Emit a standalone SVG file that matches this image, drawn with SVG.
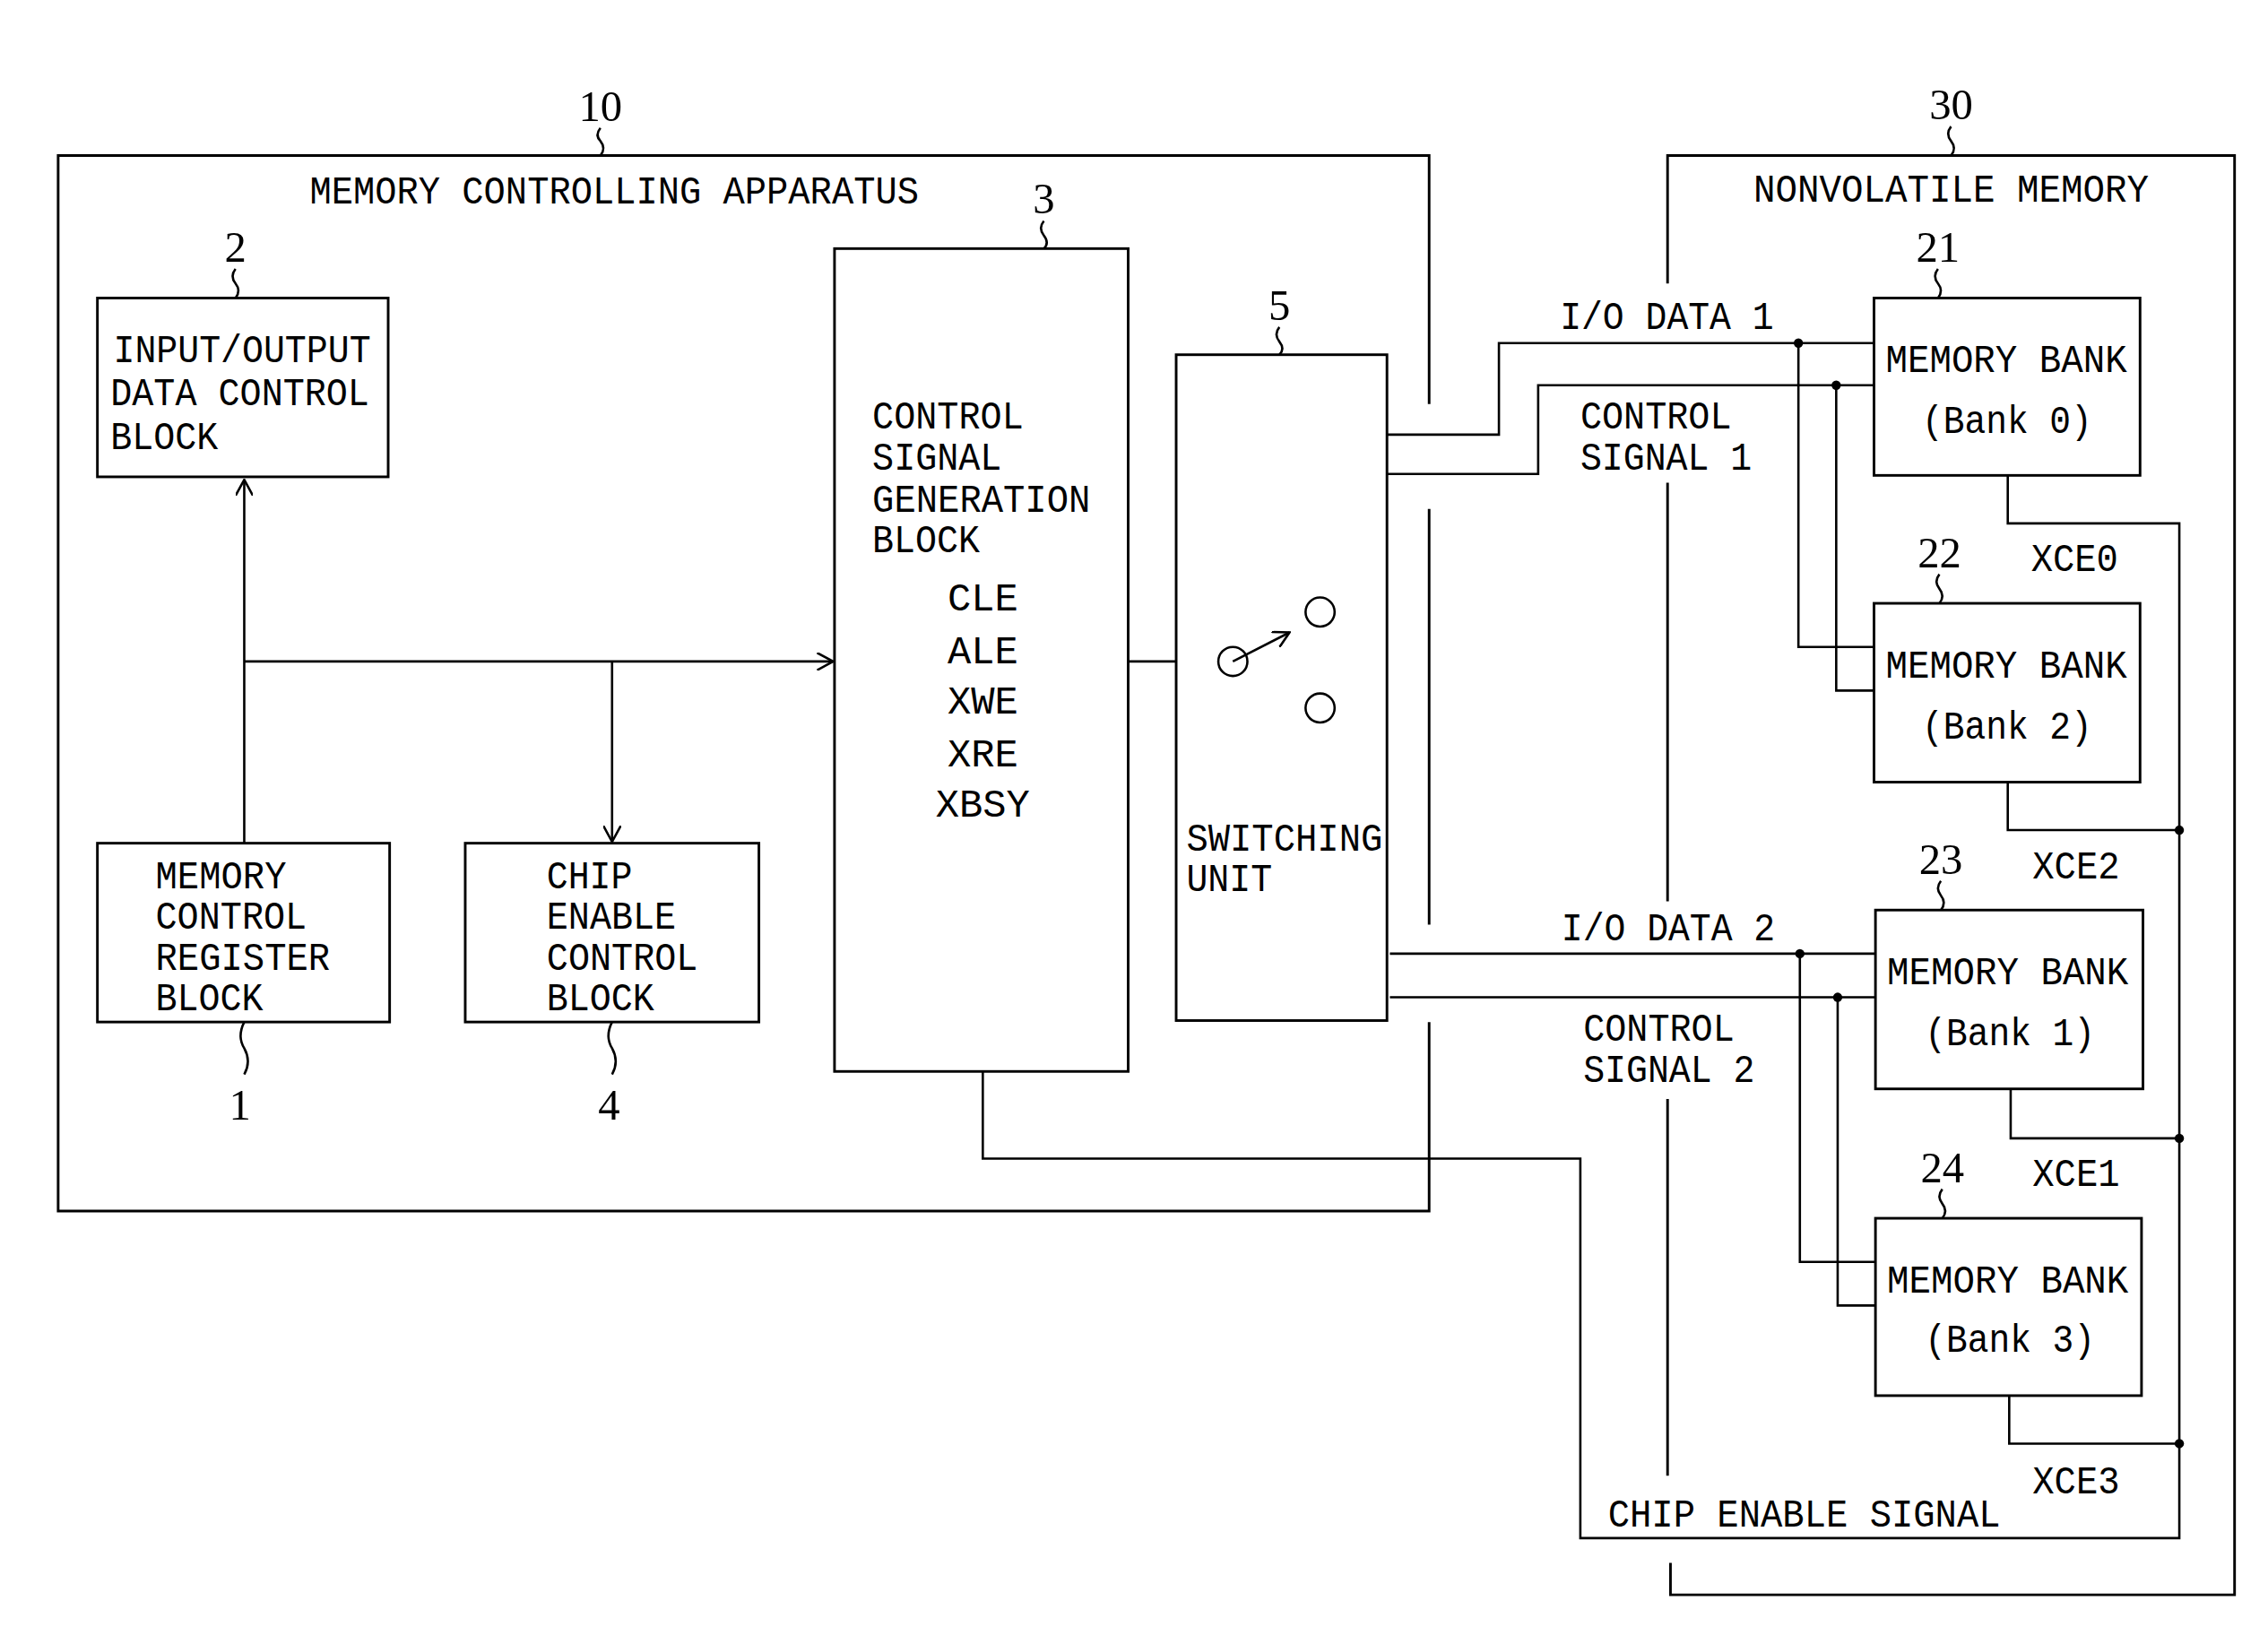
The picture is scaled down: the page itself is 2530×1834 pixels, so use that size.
<svg xmlns="http://www.w3.org/2000/svg" width="2530" height="1834" viewBox="0 0 2530 1834">
<defs>
<style>
.b{fill:none;stroke:#000;stroke-width:1.8}
.w{fill:none;stroke:#000;stroke-width:1.6}
.t{font-family:"Liberation Mono",monospace;font-size:27px;fill:#000}
.n{font-family:"Liberation Serif",serif;font-size:30px;fill:#000}
.d{fill:#000}
</style>
<marker id="ar" viewBox="0 0 12 12" refX="11" refY="6" markerWidth="12" markerHeight="12" markerUnits="userSpaceOnUse" orient="auto"><path d="M0,0 L11,6 L0,12" fill="none" stroke="#000" stroke-width="1.6"/></marker>
</defs>
<rect width="2530" height="1834" fill="#fff"/>
<g transform="scale(1.6218)">
<g id="n10">
<path class="b" d="M983,278 V107 H40 V833 H983 V703 M983,350 V636"/>
<text class="n" x="413" y="83" text-anchor="middle">10</text>
<path class="w" d="M413,88 q-4,5 0,9 q4,5 0,10"/>
<text class="t" x="213" y="140" textLength="419" lengthAdjust="spacingAndGlyphs">MEMORY CONTROLLING APPARATUS</text>
</g>
<g id="n2">
<rect class="b" x="67" y="205" width="200" height="123"/>
<text class="n" x="162" y="180" text-anchor="middle">2</text>
<path class="w" d="M162,185 q-4,5 0,10 q4,5 0,10"/>
<text class="t" x="78" y="249" textLength="177" lengthAdjust="spacingAndGlyphs">INPUT/OUTPUT</text>
<text class="t" x="76" y="279" textLength="178" lengthAdjust="spacingAndGlyphs">DATA CONTROL</text>
<text class="t" x="76" y="309" textLength="74" lengthAdjust="spacingAndGlyphs">BLOCK</text>
</g>
<g id="n1">
<rect class="b" x="67" y="580" width="201" height="123"/>
<text class="t" x="107" y="611" textLength="90" lengthAdjust="spacingAndGlyphs">MEMORY</text>
<text class="t" x="107" y="639" textLength="104" lengthAdjust="spacingAndGlyphs">CONTROL</text>
<text class="t" x="107" y="667" textLength="120" lengthAdjust="spacingAndGlyphs">REGISTER</text>
<text class="t" x="107" y="695" textLength="74" lengthAdjust="spacingAndGlyphs">BLOCK</text>
<path class="w" d="M168,703 q-5,10 0,18 q5,9 0,18"/>
<text class="n" x="165" y="770" text-anchor="middle">1</text>
</g>
<g id="n4">
<rect class="b" x="320" y="580" width="202" height="123"/>
<text class="t" x="376" y="611" textLength="59" lengthAdjust="spacingAndGlyphs">CHIP</text>
<text class="t" x="376" y="639" textLength="89" lengthAdjust="spacingAndGlyphs">ENABLE</text>
<text class="t" x="376" y="667" textLength="104" lengthAdjust="spacingAndGlyphs">CONTROL</text>
<text class="t" x="376" y="695" textLength="74" lengthAdjust="spacingAndGlyphs">BLOCK</text>
<path class="w" d="M421,703 q-5,10 0,18 q5,9 0,18"/>
<text class="n" x="419" y="770" text-anchor="middle">4</text>
</g>
<g id="n3">
<rect class="b" x="574" y="171" width="202" height="566"/>
<text class="n" x="718" y="147" text-anchor="middle">3</text>
<path class="w" d="M718,152 q-4,5 0,10 q4,5 0,9"/>
<text class="t" x="600" y="295" textLength="104" lengthAdjust="spacingAndGlyphs">CONTROL</text>
<text class="t" x="600" y="323" textLength="89" lengthAdjust="spacingAndGlyphs">SIGNAL</text>
<text class="t" x="600" y="352" textLength="150" lengthAdjust="spacingAndGlyphs">GENERATION</text>
<text class="t" x="600" y="380" textLength="74" lengthAdjust="spacingAndGlyphs">BLOCK</text>
<g text-anchor="middle">
<text class="t" x="676" y="420">CLE</text>
<text class="t" x="676" y="456">ALE</text>
<text class="t" x="676" y="491">XWE</text>
<text class="t" x="676" y="527">XRE</text>
<text class="t" x="676" y="562">XBSY</text>
</g>
</g>
<g id="n5">
<rect class="b" x="809" y="244" width="145" height="458"/>
<text class="n" x="880" y="220" text-anchor="middle">5</text>
<path class="w" d="M880,225 q-4,5 0,10 q4,5 0,9"/>
<circle class="w" cx="848" cy="455" r="10"/>
<line class="w" x1="848" y1="455" x2="887" y2="435" marker-end="url(#ar)"/>
<circle class="w" cx="908" cy="421" r="10"/>
<circle class="w" cx="908" cy="487" r="10"/>
<text class="t" x="816" y="585" textLength="135" lengthAdjust="spacingAndGlyphs">SWITCHING</text>
<text class="t" x="816" y="613" textLength="59" lengthAdjust="spacingAndGlyphs">UNIT</text>
</g>
<g id="n30">
<path class="b" d="M1147,195 V107 H1537 V1097 H1149 V1075 M1147,332 V620 M1147,756 V1015"/>
<text class="n" x="1342" y="82" text-anchor="middle">30</text>
<path class="w" d="M1342,87 q-4,5 0,10 q4,5 0,10"/>
<text class="t" x="1206" y="139" textLength="272" lengthAdjust="spacingAndGlyphs">NONVOLATILE MEMORY</text>
</g>
<g id="n21">
<rect class="b" x="1289" y="205" width="183" height="122"/>
<text class="n" x="1333" y="180" text-anchor="middle">21</text>
<path class="w" d="M1333,185 q-4,5 0,10 q4,5 0,10"/>
<text class="t" x="1297" y="256" textLength="166" lengthAdjust="spacingAndGlyphs">MEMORY BANK</text>
<text class="t" x="1322" y="298" textLength="117" lengthAdjust="spacingAndGlyphs">(Bank 0)</text>
</g>
<g id="n22">
<rect class="b" x="1289" y="415" width="183" height="123"/>
<text class="n" x="1334" y="390" text-anchor="middle">22</text>
<path class="w" d="M1334,395 q-4,5 0,10 q4,5 0,10"/>
<text class="t" x="1297" y="466" textLength="166" lengthAdjust="spacingAndGlyphs">MEMORY BANK</text>
<text class="t" x="1322" y="508" textLength="117" lengthAdjust="spacingAndGlyphs">(Bank 2)</text>
</g>
<g id="n23">
<rect class="b" x="1290" y="626" width="184" height="123"/>
<text class="n" x="1335" y="601" text-anchor="middle">23</text>
<path class="w" d="M1335,606 q-4,5 0,10 q4,5 0,10"/>
<text class="t" x="1298" y="677" textLength="166" lengthAdjust="spacingAndGlyphs">MEMORY BANK</text>
<text class="t" x="1324" y="719" textLength="117" lengthAdjust="spacingAndGlyphs">(Bank 1)</text>
</g>
<g id="n24">
<rect class="b" x="1290" y="838" width="183" height="122"/>
<text class="n" x="1336" y="813" text-anchor="middle">24</text>
<path class="w" d="M1336,818 q-4,5 0,10 q4,5 0,10"/>
<text class="t" x="1298" y="889" textLength="166" lengthAdjust="spacingAndGlyphs">MEMORY BANK</text>
<text class="t" x="1324" y="930" textLength="117" lengthAdjust="spacingAndGlyphs">(Bank 3)</text>
</g>
<g id="connectors">
<line class="w" x1="168" y1="580" x2="168" y2="330" marker-end="url(#ar)"/>
<line class="w" x1="168" y1="455" x2="573" y2="455" marker-end="url(#ar)"/>
<line class="w" x1="421" y1="455" x2="421" y2="579" marker-end="url(#ar)"/>
<line class="w" x1="776" y1="455" x2="809" y2="455"/>
<path class="w" d="M954,299 H1031 V236 H1289 M1237,236 V445 H1289"/>
<path class="w" d="M954,326 H1058 V265 H1289 M1263,265 V475 H1289"/>
<path class="w" d="M956,656 H1290 M1238,656 V868 H1290"/>
<path class="w" d="M956,686 H1290 M1264,686 V898 H1290"/>
<path class="w" d="M676,737 V797 H1087 V1058 H1499 V360 H1381 V327"/>
<path class="w" d="M1381,538 V571 H1499 M1383,749 V783 H1499 M1382,960 V993 H1499"/>
<circle class="d" cx="1237" cy="236" r="3.2"/>
<circle class="d" cx="1263" cy="265" r="3.2"/>
<circle class="d" cx="1238" cy="656" r="3.2"/>
<circle class="d" cx="1264" cy="686" r="3.2"/>
<circle class="d" cx="1499" cy="571" r="3.2"/>
<circle class="d" cx="1499" cy="783" r="3.2"/>
<circle class="d" cx="1499" cy="993" r="3.2"/>
<text class="t" x="1073" y="226" textLength="147" lengthAdjust="spacingAndGlyphs">I/O DATA 1</text>
<text class="t" x="1087" y="295" textLength="104" lengthAdjust="spacingAndGlyphs">CONTROL</text>
<text class="t" x="1087" y="323" textLength="118" lengthAdjust="spacingAndGlyphs">SIGNAL 1</text>
<text class="t" x="1074" y="647" textLength="147" lengthAdjust="spacingAndGlyphs">I/O DATA 2</text>
<text class="t" x="1089" y="716" textLength="104" lengthAdjust="spacingAndGlyphs">CONTROL</text>
<text class="t" x="1089" y="744" textLength="118" lengthAdjust="spacingAndGlyphs">SIGNAL 2</text>
<text class="t" x="1106" y="1050" textLength="270" lengthAdjust="spacingAndGlyphs">CHIP ENABLE SIGNAL</text>
<text class="t" x="1397" y="393" textLength="60" lengthAdjust="spacingAndGlyphs">XCE0</text>
<text class="t" x="1398" y="604" textLength="60" lengthAdjust="spacingAndGlyphs">XCE2</text>
<text class="t" x="1398" y="816" textLength="60" lengthAdjust="spacingAndGlyphs">XCE1</text>
<text class="t" x="1398" y="1027" textLength="60" lengthAdjust="spacingAndGlyphs">XCE3</text>
</g>
</g>
</svg>
